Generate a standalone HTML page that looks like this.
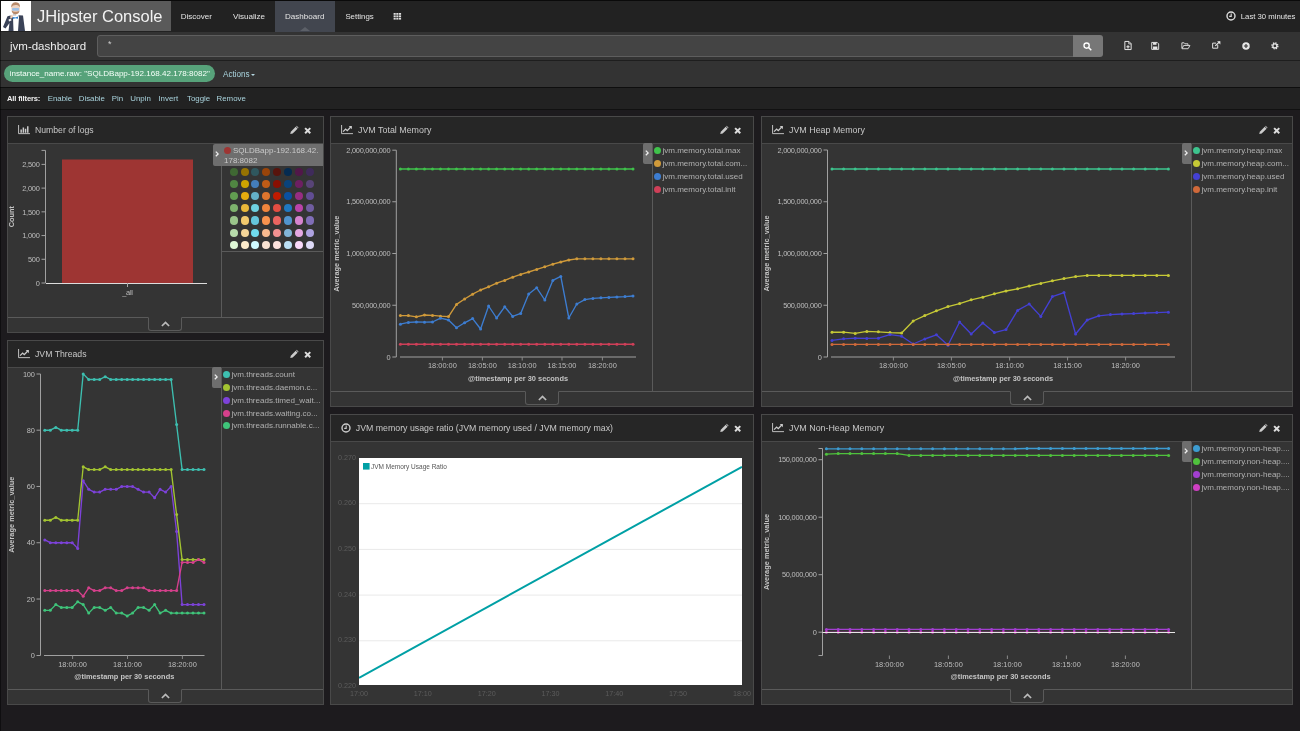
<!DOCTYPE html>
<html><head><meta charset="utf-8"><title>jvm-dashboard - JHipster Console</title>
<style>
*{box-sizing:border-box;margin:0;padding:0}
html,body{width:1300px;height:731px;overflow:hidden;background:#1d1b1e;font-family:"Liberation Sans", sans-serif;color:#ccc}
body{position:relative}
body:before{content:'';position:absolute;left:0;top:0;width:1px;height:731px;background:rgba(0,0,0,.45);z-index:9}
.ic{position:absolute;display:block;overflow:visible}
#nav{position:absolute;left:0;top:0;width:1300px;height:32px;background:#222;box-shadow:inset 0 1px 0 #0a0a0a}
#brand{position:absolute;left:31px;top:1px;width:139.5px;height:30px;background:#5a5a5a;color:#f2f2f2;font-size:16.5px;line-height:31.4px;padding-left:5.9px;white-space:nowrap}
.nl{position:absolute;top:1px;line-height:31px;font-size:8.05px;color:#e4e4e4;white-space:nowrap}
#act{position:absolute;left:275px;top:1px;width:60px;height:30.5px;background:#42464f}
#tri{position:absolute;left:300.4px;top:26.9px;width:0;height:0;border-left:5px solid transparent;border-right:5px solid transparent;border-bottom:4.6px solid #5c6068}
#tp{position:absolute;left:1240.8px;top:1px;line-height:31px;font-size:7.74px;color:#e4e4e4;white-space:nowrap}
#bar2{position:absolute;left:0;top:32px;width:1300px;height:29px;background:#333;border-bottom:1px solid #1e1e1e}
#dt{position:absolute;left:10px;top:0;line-height:28px;font-size:11.5px;color:#eee;white-space:nowrap}
#q{position:absolute;left:97px;top:3px;width:977px;height:22px;background:#444;border:1px solid #5e5e5e;border-radius:3px 0 0 3px}
#q span{position:absolute;left:10px;top:3px;font-size:9px;color:#ccc}
#qb{position:absolute;left:1073px;top:3px;width:30px;height:22px;background:#777;border-radius:0 3px 3px 0}
#fbar{position:absolute;left:0;top:61px;width:1300px;height:27px;background:#333;border-bottom:1px solid #0e0e0e}
#pill{position:absolute;left:4px;top:4px;height:17px;width:211px;border-radius:9px;background:#57a27a;color:#f4fff8;font-size:8.09px;line-height:18px;padding-left:5.6px;white-space:nowrap}
#acts{position:absolute;left:223px;top:5px;line-height:17px;font-size:8.13px;color:#a9d3dd;white-space:nowrap}
#acts i{display:inline-block;margin-left:1px;vertical-align:1px;border-left:2.4px solid transparent;border-right:2.4px solid transparent;border-top:2.8px solid #b4d6e0}
#allf{position:absolute;left:0;top:88px;width:1300px;height:22px;background:#222;border-bottom:1px solid #111;font-size:7.9px;line-height:21px}
#allf b{position:absolute;left:7px;color:#f0f0f0;white-space:nowrap;font-size:7.6px;letter-spacing:-0.15px}
#allf a{position:absolute;color:#a9d3dd;white-space:nowrap}
.panel{position:absolute;border:1px solid #494949;background:#343434}
.ph{position:absolute;left:0;top:0;right:0;height:27px;background:#262626;border-bottom:1px solid #494949}
.pt{position:absolute;top:0;line-height:26px;font-size:8.9px;color:#c8c8c8;white-space:nowrap}
.chart{position:absolute;overflow:hidden}
.tk{font-size:7.4px;letter-spacing:-0.25px;fill:#bdbdbd;font-family:"Liberation Sans", sans-serif}
.tt{letter-spacing:0}
.at{font-size:7.4px;fill:#c4c4c4;font-weight:bold;font-family:"Liberation Sans", sans-serif}
.tl{font-size:7.2px;fill:#5c5c5c;font-family:"Liberation Sans", sans-serif}
.tg{font-size:6.5px;fill:#555;font-family:"Liberation Sans", sans-serif}
.lsep{position:absolute;width:1px;background:#5a5a5a}
.ltog{position:absolute;width:9px;height:20.5px;background:#6e6e6e;border-radius:2px 0 0 2px}
.li{position:absolute;height:13px;line-height:13px;font-size:8.05px;color:#b0b0b0;white-space:nowrap;overflow:hidden}
.li i{display:inline-block;width:7px;height:7px;border-radius:50%;vertical-align:-1px;margin-right:1px}
.lhl{position:absolute;height:22px;background:#6e6e6e;border-radius:2px 0 0 2px}
.lhlt{position:absolute;left:11px;top:2.4px;font-size:8px;line-height:9.4px;color:#c9c9c9;white-space:nowrap}
.lhlt i{display:inline-block;width:7px;height:7px;border-radius:50%;vertical-align:-0.5px;margin-right:2px}
.dot{position:absolute;width:8.2px;height:8.2px;border-radius:50%}
.hl{position:absolute;height:1px;background:#5a5a5a}
.spyl{position:absolute;left:0;right:0;height:1px;background:#5a5a5a}
.spyt{position:absolute;width:34px;height:13.5px;border:1px solid #5a5a5a;border-top:1px solid #343434;border-radius:0 0 3px 3px;background:#343434}
</style></head>
<body>
<div id="nav"><svg class="ic" style="left:1px;top:1px" width="30" height="30" viewBox="1 1 30 30"><rect x="1" y="1" width="30" height="30" fill="#fff"/><path d="M7.5 16.2L10.5 15.6L13 17.5L13.5 31H8.5L9.5 23L5.5 28.5L3 27L7.5 16.2Z" fill="#3a4257"/><path d="M18.5 15.2L23 15.6L25 31H18L19 17.5Z" fill="#3a4257"/><path d="M8.5 19.5L11 18.5L11.5 20.5L9 21.5Z" fill="#f3f1f3"/><path d="M10.5 15.2L12.5 14.6L13 17L11.5 18.6L10.2 18Z" fill="#edcdb8"/><rect x="13" y="13" width="3.2" height="2.8" fill="#cfcfd2"/><path d="M12.8 17L15.4 17.6L18 16.6V18.8L15.4 18.2L12.8 19Z" fill="#2a7fd0"/><ellipse cx="15.6" cy="8.6" rx="4.2" ry="5" fill="#efd3c0"/><path d="M11.2 7.5C11 3.5 13.5 2.2 16 2.2C19 2.4 20.3 4.5 20 7.5C19 5.6 17.5 5 15.6 5C13.6 5 12.2 5.8 11.2 7.5Z" fill="#b88a6a"/><path d="M11.6 10.5C12 13.5 14 14.2 15.6 14.2C17.4 14.2 19.2 13.3 19.6 10.5C18.5 11.6 17 11.8 15.6 11.8C14 11.8 12.6 11.5 11.6 10.5Z" fill="#b88a6a"/><rect x="12.1" y="8" width="7" height="2.8" rx="0.8" fill="#9fc0e4"/></svg><div id="brand">JHipster Console</div><a class="nl" style="left:180.7px">Discover</a><a class="nl" style="left:233px">Visualize</a><div id="act"></div><a class="nl" style="left:285px">Dashboard</a><div id="tri"></div><a class="nl" style="left:345.4px;font-size:7.85px">Settings</a><svg class="ic" style="left:393.3px;top:13px" width="8.7" height="6.6" viewBox="0 0 8.4 7.4"><rect x="0" y="0.0" width="2.4" height="2" fill="#ddd"/><rect x="3" y="0.0" width="2.4" height="2" fill="#ddd"/><rect x="6" y="0.0" width="2.4" height="2" fill="#ddd"/><rect x="0" y="2.7" width="2.4" height="2" fill="#ddd"/><rect x="3" y="2.7" width="2.4" height="2" fill="#ddd"/><rect x="6" y="2.7" width="2.4" height="2" fill="#ddd"/><rect x="0" y="5.4" width="2.4" height="2" fill="#ddd"/><rect x="3" y="5.4" width="2.4" height="2" fill="#ddd"/><rect x="6" y="5.4" width="2.4" height="2" fill="#ddd"/></svg><svg class="ic" style="left:1226px;top:11px" width="10" height="10" viewBox="0 0 10 10"><circle cx="5" cy="5" r="4" fill="none" stroke="#ddd" stroke-width="1.4"/><path d="M5.2 2.6V5.4H3.2" fill="none" stroke="#ddd" stroke-width="1.1"/></svg><span id="tp">Last 30 minutes</span></div><div id="bar2"><span id="dt">jvm-dashboard</span><div id="q"><span>*</span></div><div id="qb"><svg class="ic" style="left:10.2px;top:7.2px" width="9" height="9" viewBox="0 0 10 10"><circle cx="4" cy="4" r="2.9" fill="none" stroke="#fff" stroke-width="1.5"/><path d="M6.2 6.2L9.2 9.2" stroke="#fff" stroke-width="1.7"/></svg></div><svg class="ic" style="left:1123.6px;top:9px" width="8" height="9" viewBox="0 0 8 10"><path d="M0.5 0.5H5L7.5 3V9.5H0.5Z" fill="none" stroke="#e6e6e6" stroke-width="1.1"/><path d="M4.8 0.5V3.2H7.5" fill="none" stroke="#e6e6e6" stroke-width="0.9"/><path d="M4 4.6V8.2M2.2 6.4H5.8" stroke="#e6e6e6" stroke-width="1.3"/></svg><svg class="ic" style="left:1151.2px;top:10px" width="8.4" height="7.8" viewBox="0 0 9 9"><path d="M0.5 0.5H6.8L8.5 2.2V8.5H0.5Z" fill="none" stroke="#e6e6e6" stroke-width="1.1"/><rect x="2" y="0.8" width="4" height="2.4" fill="#e6e6e6"/><rect x="2" y="5.2" width="5" height="3" fill="#e6e6e6"/></svg><svg class="ic" style="left:1180.6px;top:10px" width="9.8" height="7.4" viewBox="0 0 11 9"><path d="M0.6 7.8V1H3.4L4.4 2.2H8V3.6" fill="none" stroke="#e6e6e6" stroke-width="1.1"/><path d="M0.8 8.2L2.8 4.2H10.4L8.2 8.2Z" fill="none" stroke="#e6e6e6" stroke-width="1.1"/></svg><svg class="ic" style="left:1212px;top:9px" width="9" height="8.2" viewBox="0 0 11 10"><path d="M7 4.6V8.8H0.8V2.6H5" fill="none" stroke="#e6e6e6" stroke-width="1.2"/><path d="M4 6L9.4 0.8" stroke="#e6e6e6" stroke-width="1.5"/><path d="M6.2 0.3H10.2V4.3Z" fill="#e6e6e6"/></svg><svg class="ic" style="left:1242px;top:10px" width="8" height="8" viewBox="0 0 9 9"><circle cx="4.5" cy="4.5" r="4.2" fill="#e6e6e6"/><path d="M4.5 2.2V6.8M2.2 4.5H6.8" stroke="#333" stroke-width="1.3"/></svg><svg class="ic" style="left:1271.4px;top:10px" width="7.8" height="7.8" viewBox="0 0 9 9"><circle cx="4.5" cy="4.5" r="3.4" fill="none" stroke="#e6e6e6" stroke-width="1.6" stroke-dasharray="1.55 1.12"/><circle cx="4.5" cy="4.5" r="2.3" fill="none" stroke="#e6e6e6" stroke-width="1.4"/></svg></div><div id="fbar"><div id="pill">instance_name.raw: "SQLDBapp-192.168.42.178:8082"</div><span id="acts">Actions<i></i></span></div><div id="allf"><b>All filters:</b><a style="left:47.7px">Enable</a><a style="left:78.7px">Disable</a><a style="left:111.7px">Pin</a><a style="left:130.2px">Unpin</a><a style="left:158.4px">Invert</a><a style="left:187px">Toggle</a><a style="left:216.5px">Remove</a></div>
<div class="panel" style="left:7px;top:116px;width:317px;height:217px"><div class="ph"><svg class="ic" style="left:10px;top:8px" width="12" height="9.2" viewBox="0 0 13 10"><path d="M0.6 0V9.4H13" fill="none" stroke="#ccc" stroke-width="1"/><path d="M2.6 5h1.6v3.4H2.6zM5 2.6h1.6v5.8H5zM7.4 4h1.6v4.4H7.4zM9.8 1.4h1.6v7H9.8z" fill="#ccc"/></svg><span class="pt" style="left:27px;font-size:8.66px">Number of logs</span><svg class="ic" style="left:282.4px;top:9.2px" width="8.4" height="8.4" viewBox="0 0 9 9"><path d="M0.3 8.7L0.9 6.1L6.1 0.9L8.1 2.9L2.9 8.1Z" fill="#ccc"/><path d="M6.6 0.4L7.2 -0.2L9.2 1.8L8.6 2.4Z" fill="#ccc"/></svg><svg class="ic" style="left:295.8px;top:9.6px" width="7.4" height="7.4" viewBox="0 0 8 8"><path d="M1.2 1.2L6.8 6.8M6.8 1.2L1.2 6.8" stroke="#ddd" stroke-width="2.1"/></svg></div><svg class="chart" width="315" height="215" viewBox="8 117 315 215" style="left:0;top:0"><path d="M41.5 150.4H45.5V283H41.5" fill="none" stroke="#a0a0a0" stroke-width="1"/><text x="39.5" y="285.7" text-anchor="end" class="tk">0</text><path d="M41.5 259.28H45.5" stroke="#a0a0a0" stroke-width="1"/><text x="39.5" y="261.97999999999996" text-anchor="end" class="tk">500</text><path d="M41.5 235.56H45.5" stroke="#a0a0a0" stroke-width="1"/><text x="39.5" y="238.26" text-anchor="end" class="tk">1,000</text><path d="M41.5 211.84H45.5" stroke="#a0a0a0" stroke-width="1"/><text x="39.5" y="214.54" text-anchor="end" class="tk">1,500</text><path d="M41.5 188.12H45.5" stroke="#a0a0a0" stroke-width="1"/><text x="39.5" y="190.82" text-anchor="end" class="tk">2,000</text><path d="M41.5 164.4H45.5" stroke="#a0a0a0" stroke-width="1"/><text x="39.5" y="167.1" text-anchor="end" class="tk">2,500</text><text transform="translate(13.9,216.7) rotate(-90)" text-anchor="middle" class="at">Count</text><rect x="62" y="159.5" width="131" height="123.5" fill="#9e3533"/><path d="M46 283.5H207" stroke="#ddd" stroke-width="1"/><path d="M127.5 283V287" stroke="#aaa" stroke-width="1"/><text x="127.5" y="295" text-anchor="middle" class="tk">_all</text></svg><div class="lsep" style="left:213px;top:27px;height:173px"></div><div class="lhl" style="left:205px;top:27px;width:110px"><svg class="ic" style="left:2px;top:7.2px" width="4" height="6" viewBox="0 0 4 6"><path d="M0.8 0.6L3.1 2.9L0.8 5.2" fill="none" stroke="#eee" stroke-width="1.3"/></svg><div class="lhlt"><i style="background:#9e3533"></i>SQLDBapp-192.168.42.<br>178:8082</div></div><i class="dot" style="left:221.6px;top:50.5px;background:#3F6833"></i><i class="dot" style="left:232.5px;top:50.5px;background:#967302"></i><i class="dot" style="left:243.3px;top:50.5px;background:#2F575E"></i><i class="dot" style="left:254.2px;top:50.5px;background:#99440A"></i><i class="dot" style="left:265.1px;top:50.5px;background:#58140C"></i><i class="dot" style="left:275.9px;top:50.5px;background:#052B51"></i><i class="dot" style="left:286.8px;top:50.5px;background:#511749"></i><i class="dot" style="left:297.7px;top:50.5px;background:#3F2B5B"></i><i class="dot" style="left:221.6px;top:62.7px;background:#508642"></i><i class="dot" style="left:232.5px;top:62.7px;background:#CCA300"></i><i class="dot" style="left:243.3px;top:62.7px;background:#447EBC"></i><i class="dot" style="left:254.2px;top:62.7px;background:#C15C17"></i><i class="dot" style="left:265.1px;top:62.7px;background:#890F02"></i><i class="dot" style="left:275.9px;top:62.7px;background:#0A437C"></i><i class="dot" style="left:286.8px;top:62.7px;background:#6D1F62"></i><i class="dot" style="left:297.7px;top:62.7px;background:#584477"></i><i class="dot" style="left:221.6px;top:74.9px;background:#629E51"></i><i class="dot" style="left:232.5px;top:74.9px;background:#E5AC0E"></i><i class="dot" style="left:243.3px;top:74.9px;background:#64B0C8"></i><i class="dot" style="left:254.2px;top:74.9px;background:#E0752D"></i><i class="dot" style="left:265.1px;top:74.9px;background:#BF1B00"></i><i class="dot" style="left:275.9px;top:74.9px;background:#0A50A1"></i><i class="dot" style="left:286.8px;top:74.9px;background:#962D82"></i><i class="dot" style="left:297.7px;top:74.9px;background:#614D93"></i><i class="dot" style="left:221.6px;top:87.2px;background:#7EB26D"></i><i class="dot" style="left:232.5px;top:87.2px;background:#EAB839"></i><i class="dot" style="left:243.3px;top:87.2px;background:#6ED0E0"></i><i class="dot" style="left:254.2px;top:87.2px;background:#EF843C"></i><i class="dot" style="left:265.1px;top:87.2px;background:#E24D42"></i><i class="dot" style="left:275.9px;top:87.2px;background:#1F78C1"></i><i class="dot" style="left:286.8px;top:87.2px;background:#BA43A9"></i><i class="dot" style="left:297.7px;top:87.2px;background:#705DA0"></i><i class="dot" style="left:221.6px;top:99.4px;background:#9AC48A"></i><i class="dot" style="left:232.5px;top:99.4px;background:#F2C96D"></i><i class="dot" style="left:243.3px;top:99.4px;background:#65C5DB"></i><i class="dot" style="left:254.2px;top:99.4px;background:#F9934E"></i><i class="dot" style="left:265.1px;top:99.4px;background:#EA6460"></i><i class="dot" style="left:275.9px;top:99.4px;background:#5195CE"></i><i class="dot" style="left:286.8px;top:99.4px;background:#D683CE"></i><i class="dot" style="left:297.7px;top:99.4px;background:#806EB7"></i><i class="dot" style="left:221.6px;top:111.6px;background:#B7DBAB"></i><i class="dot" style="left:232.5px;top:111.6px;background:#F4D598"></i><i class="dot" style="left:243.3px;top:111.6px;background:#70DBED"></i><i class="dot" style="left:254.2px;top:111.6px;background:#F9BA8F"></i><i class="dot" style="left:265.1px;top:111.6px;background:#F29191"></i><i class="dot" style="left:275.9px;top:111.6px;background:#82B5D8"></i><i class="dot" style="left:286.8px;top:111.6px;background:#E5A8E2"></i><i class="dot" style="left:297.7px;top:111.6px;background:#AEA2E0"></i><i class="dot" style="left:221.6px;top:123.8px;background:#E0F9D7"></i><i class="dot" style="left:232.5px;top:123.8px;background:#FCEACA"></i><i class="dot" style="left:243.3px;top:123.8px;background:#CFFAFF"></i><i class="dot" style="left:254.2px;top:123.8px;background:#F9E2D2"></i><i class="dot" style="left:265.1px;top:123.8px;background:#FCE2DE"></i><i class="dot" style="left:275.9px;top:123.8px;background:#BADFF4"></i><i class="dot" style="left:286.8px;top:123.8px;background:#F9D9F9"></i><i class="dot" style="left:297.7px;top:123.8px;background:#DEDAF7"></i><div class="hl" style="left:214px;top:134px;width:101px"></div><div class="spyl" style="top:200px"></div><div class="spyt" style="left:140.0px;top:200px"><svg class="ic" style="left:12px;top:3px" width="9" height="6" viewBox="0 0 9 6"><path d="M0.9 5L4.5 1.4L8.1 5" fill="none" stroke="#bbb" stroke-width="1.7"/></svg></div></div>
<div class="panel" style="left:7px;top:340px;width:317px;height:365px"><div class="ph"><svg class="ic" style="left:10px;top:8px" width="12" height="9.2" viewBox="0 0 13 10"><path d="M0.6 0V9.4H13" fill="none" stroke="#ccc" stroke-width="1"/><path d="M2.2 7.2L5 4.4L6.8 6.2L10.6 2.2" fill="none" stroke="#ccc" stroke-width="1.4"/><path d="M8.4 1.2H11.8V4.6Z" fill="#ccc"/></svg><span class="pt" style="left:27px;font-size:8.7px">JVM Threads</span><svg class="ic" style="left:282.4px;top:9.2px" width="8.4" height="8.4" viewBox="0 0 9 9"><path d="M0.3 8.7L0.9 6.1L6.1 0.9L8.1 2.9L2.9 8.1Z" fill="#ccc"/><path d="M6.6 0.4L7.2 -0.2L9.2 1.8L8.6 2.4Z" fill="#ccc"/></svg><svg class="ic" style="left:295.8px;top:9.6px" width="7.4" height="7.4" viewBox="0 0 8 8"><path d="M1.2 1.2L6.8 6.8M6.8 1.2L1.2 6.8" stroke="#ddd" stroke-width="2.1"/></svg></div><svg class="chart" width="315" height="363" viewBox="8 341 315 363" style="left:0;top:0"><path d="M36.5 374H40.5V655.5H36.5" fill="none" stroke="#a0a0a0" stroke-width="1"/><text x="34.5" y="658.0" text-anchor="end" class="tk">0</text><path d="M36.5 599.02H40.5" stroke="#a0a0a0" stroke-width="1"/><text x="34.5" y="601.72" text-anchor="end" class="tk">20</text><path d="M36.5 542.74H40.5" stroke="#a0a0a0" stroke-width="1"/><text x="34.5" y="545.44" text-anchor="end" class="tk">40</text><path d="M36.5 486.4599999999999H40.5" stroke="#a0a0a0" stroke-width="1"/><text x="34.5" y="489.1599999999999" text-anchor="end" class="tk">60</text><path d="M36.5 430.17999999999995H40.5" stroke="#a0a0a0" stroke-width="1"/><text x="34.5" y="432.87999999999994" text-anchor="end" class="tk">80</text><text x="34.5" y="376.59999999999997" text-anchor="end" class="tk">100</text><text transform="translate(13.5,514.75) rotate(-90)" text-anchor="middle" class="at">Average metric_value</text><path d="M44 655.5H204.5" stroke="#a0a0a0" stroke-width="1"/><path d="M72.6 655.5V659.0" stroke="#8a8a8a" stroke-width="1"/><text x="72.6" y="666.6" text-anchor="middle" class="tk tt">18:00:00</text><path d="M127.5 655.5V659.0" stroke="#8a8a8a" stroke-width="1"/><text x="127.5" y="666.6" text-anchor="middle" class="tk tt">18:10:00</text><path d="M182.4 655.5V659.0" stroke="#8a8a8a" stroke-width="1"/><text x="182.4" y="666.6" text-anchor="middle" class="tk tt">18:20:00</text><text x="124.25" y="679.3" text-anchor="middle" class="at">@timestamp per 30 seconds</text><polyline fill="none" stroke="#3dbfb0" stroke-width="1.35" stroke-linejoin="round" points="44.8,430.2 50.3,430.2 55.8,427.4 61.3,430.2 66.8,430.2 72.2,430.2 77.7,430.2 83.2,373.9 88.7,379.5 94.2,379.5 99.7,379.5 105.2,376.7 110.7,379.5 116.2,379.5 121.7,379.5 127.2,379.5 132.6,379.5 138.1,379.5 143.6,379.5 149.1,379.5 154.6,379.5 160.1,379.5 165.6,379.5 171.1,379.5 176.6,424.6 182.1,469.6 187.5,469.6 193.0,469.6 198.5,469.6 204.0,469.6"/><circle cx="44.8" cy="430.2" r="1.5" fill="#3dbfb0"/><circle cx="50.3" cy="430.2" r="1.5" fill="#3dbfb0"/><circle cx="55.8" cy="427.4" r="1.5" fill="#3dbfb0"/><circle cx="61.3" cy="430.2" r="1.5" fill="#3dbfb0"/><circle cx="66.8" cy="430.2" r="1.5" fill="#3dbfb0"/><circle cx="72.2" cy="430.2" r="1.5" fill="#3dbfb0"/><circle cx="77.7" cy="430.2" r="1.5" fill="#3dbfb0"/><circle cx="83.2" cy="373.9" r="1.5" fill="#3dbfb0"/><circle cx="88.7" cy="379.5" r="1.5" fill="#3dbfb0"/><circle cx="94.2" cy="379.5" r="1.5" fill="#3dbfb0"/><circle cx="99.7" cy="379.5" r="1.5" fill="#3dbfb0"/><circle cx="105.2" cy="376.7" r="1.5" fill="#3dbfb0"/><circle cx="110.7" cy="379.5" r="1.5" fill="#3dbfb0"/><circle cx="116.2" cy="379.5" r="1.5" fill="#3dbfb0"/><circle cx="121.7" cy="379.5" r="1.5" fill="#3dbfb0"/><circle cx="127.2" cy="379.5" r="1.5" fill="#3dbfb0"/><circle cx="132.6" cy="379.5" r="1.5" fill="#3dbfb0"/><circle cx="138.1" cy="379.5" r="1.5" fill="#3dbfb0"/><circle cx="143.6" cy="379.5" r="1.5" fill="#3dbfb0"/><circle cx="149.1" cy="379.5" r="1.5" fill="#3dbfb0"/><circle cx="154.6" cy="379.5" r="1.5" fill="#3dbfb0"/><circle cx="160.1" cy="379.5" r="1.5" fill="#3dbfb0"/><circle cx="165.6" cy="379.5" r="1.5" fill="#3dbfb0"/><circle cx="171.1" cy="379.5" r="1.5" fill="#3dbfb0"/><circle cx="176.6" cy="424.6" r="1.5" fill="#3dbfb0"/><circle cx="182.1" cy="469.6" r="1.5" fill="#3dbfb0"/><circle cx="187.5" cy="469.6" r="1.5" fill="#3dbfb0"/><circle cx="193.0" cy="469.6" r="1.5" fill="#3dbfb0"/><circle cx="198.5" cy="469.6" r="1.5" fill="#3dbfb0"/><circle cx="204.0" cy="469.6" r="1.5" fill="#3dbfb0"/><polyline fill="none" stroke="#a3c431" stroke-width="1.35" stroke-linejoin="round" points="44.8,520.2 50.3,520.2 55.8,517.4 61.3,520.2 66.8,520.2 72.2,520.2 77.7,520.2 83.2,466.8 88.7,469.6 94.2,469.6 99.7,469.6 105.2,466.8 110.7,469.6 116.2,469.6 121.7,469.6 127.2,469.6 132.6,469.6 138.1,469.6 143.6,469.6 149.1,469.6 154.6,469.6 160.1,469.6 165.6,469.6 171.1,469.6 176.6,514.6 182.1,559.6 187.5,559.6 193.0,559.6 198.5,559.6 204.0,559.6"/><circle cx="44.8" cy="520.2" r="1.5" fill="#a3c431"/><circle cx="50.3" cy="520.2" r="1.5" fill="#a3c431"/><circle cx="55.8" cy="517.4" r="1.5" fill="#a3c431"/><circle cx="61.3" cy="520.2" r="1.5" fill="#a3c431"/><circle cx="66.8" cy="520.2" r="1.5" fill="#a3c431"/><circle cx="72.2" cy="520.2" r="1.5" fill="#a3c431"/><circle cx="77.7" cy="520.2" r="1.5" fill="#a3c431"/><circle cx="83.2" cy="466.8" r="1.5" fill="#a3c431"/><circle cx="88.7" cy="469.6" r="1.5" fill="#a3c431"/><circle cx="94.2" cy="469.6" r="1.5" fill="#a3c431"/><circle cx="99.7" cy="469.6" r="1.5" fill="#a3c431"/><circle cx="105.2" cy="466.8" r="1.5" fill="#a3c431"/><circle cx="110.7" cy="469.6" r="1.5" fill="#a3c431"/><circle cx="116.2" cy="469.6" r="1.5" fill="#a3c431"/><circle cx="121.7" cy="469.6" r="1.5" fill="#a3c431"/><circle cx="127.2" cy="469.6" r="1.5" fill="#a3c431"/><circle cx="132.6" cy="469.6" r="1.5" fill="#a3c431"/><circle cx="138.1" cy="469.6" r="1.5" fill="#a3c431"/><circle cx="143.6" cy="469.6" r="1.5" fill="#a3c431"/><circle cx="149.1" cy="469.6" r="1.5" fill="#a3c431"/><circle cx="154.6" cy="469.6" r="1.5" fill="#a3c431"/><circle cx="160.1" cy="469.6" r="1.5" fill="#a3c431"/><circle cx="165.6" cy="469.6" r="1.5" fill="#a3c431"/><circle cx="171.1" cy="469.6" r="1.5" fill="#a3c431"/><circle cx="176.6" cy="514.6" r="1.5" fill="#a3c431"/><circle cx="182.1" cy="559.6" r="1.5" fill="#a3c431"/><circle cx="187.5" cy="559.6" r="1.5" fill="#a3c431"/><circle cx="193.0" cy="559.6" r="1.5" fill="#a3c431"/><circle cx="198.5" cy="559.6" r="1.5" fill="#a3c431"/><circle cx="204.0" cy="559.6" r="1.5" fill="#a3c431"/><polyline fill="none" stroke="#7d42d9" stroke-width="1.35" stroke-linejoin="round" points="44.8,539.9 50.3,542.7 55.8,542.7 61.3,542.7 66.8,542.7 72.2,542.7 77.7,548.4 83.2,480.8 88.7,489.3 94.2,492.1 99.7,492.1 105.2,489.3 110.7,489.3 116.2,489.3 121.7,486.5 127.2,486.5 132.6,486.5 138.1,489.3 143.6,492.1 149.1,492.1 154.6,497.7 160.1,489.3 165.6,492.1 171.1,486.5 176.6,531.5 182.1,604.6 187.5,604.6 193.0,604.6 198.5,604.6 204.0,604.6"/><circle cx="44.8" cy="539.9" r="1.5" fill="#7d42d9"/><circle cx="50.3" cy="542.7" r="1.5" fill="#7d42d9"/><circle cx="55.8" cy="542.7" r="1.5" fill="#7d42d9"/><circle cx="61.3" cy="542.7" r="1.5" fill="#7d42d9"/><circle cx="66.8" cy="542.7" r="1.5" fill="#7d42d9"/><circle cx="72.2" cy="542.7" r="1.5" fill="#7d42d9"/><circle cx="77.7" cy="548.4" r="1.5" fill="#7d42d9"/><circle cx="83.2" cy="480.8" r="1.5" fill="#7d42d9"/><circle cx="88.7" cy="489.3" r="1.5" fill="#7d42d9"/><circle cx="94.2" cy="492.1" r="1.5" fill="#7d42d9"/><circle cx="99.7" cy="492.1" r="1.5" fill="#7d42d9"/><circle cx="105.2" cy="489.3" r="1.5" fill="#7d42d9"/><circle cx="110.7" cy="489.3" r="1.5" fill="#7d42d9"/><circle cx="116.2" cy="489.3" r="1.5" fill="#7d42d9"/><circle cx="121.7" cy="486.5" r="1.5" fill="#7d42d9"/><circle cx="127.2" cy="486.5" r="1.5" fill="#7d42d9"/><circle cx="132.6" cy="486.5" r="1.5" fill="#7d42d9"/><circle cx="138.1" cy="489.3" r="1.5" fill="#7d42d9"/><circle cx="143.6" cy="492.1" r="1.5" fill="#7d42d9"/><circle cx="149.1" cy="492.1" r="1.5" fill="#7d42d9"/><circle cx="154.6" cy="497.7" r="1.5" fill="#7d42d9"/><circle cx="160.1" cy="489.3" r="1.5" fill="#7d42d9"/><circle cx="165.6" cy="492.1" r="1.5" fill="#7d42d9"/><circle cx="171.1" cy="486.5" r="1.5" fill="#7d42d9"/><circle cx="176.6" cy="531.5" r="1.5" fill="#7d42d9"/><circle cx="182.1" cy="604.6" r="1.5" fill="#7d42d9"/><circle cx="187.5" cy="604.6" r="1.5" fill="#7d42d9"/><circle cx="193.0" cy="604.6" r="1.5" fill="#7d42d9"/><circle cx="198.5" cy="604.6" r="1.5" fill="#7d42d9"/><circle cx="204.0" cy="604.6" r="1.5" fill="#7d42d9"/><polyline fill="none" stroke="#d6408c" stroke-width="1.35" stroke-linejoin="round" points="44.8,590.6 50.3,590.6 55.8,590.6 61.3,590.6 66.8,590.6 72.2,590.6 77.7,590.6 83.2,596.2 88.7,587.8 94.2,590.6 99.7,590.6 105.2,587.8 110.7,587.8 116.2,590.6 121.7,590.6 127.2,587.8 132.6,587.8 138.1,587.8 143.6,587.8 149.1,590.6 154.6,590.6 160.1,590.6 165.6,590.6 171.1,590.6 176.6,590.6 182.1,562.4 187.5,562.4 193.0,562.4 198.5,559.6 204.0,562.4"/><circle cx="44.8" cy="590.6" r="1.5" fill="#d6408c"/><circle cx="50.3" cy="590.6" r="1.5" fill="#d6408c"/><circle cx="55.8" cy="590.6" r="1.5" fill="#d6408c"/><circle cx="61.3" cy="590.6" r="1.5" fill="#d6408c"/><circle cx="66.8" cy="590.6" r="1.5" fill="#d6408c"/><circle cx="72.2" cy="590.6" r="1.5" fill="#d6408c"/><circle cx="77.7" cy="590.6" r="1.5" fill="#d6408c"/><circle cx="83.2" cy="596.2" r="1.5" fill="#d6408c"/><circle cx="88.7" cy="587.8" r="1.5" fill="#d6408c"/><circle cx="94.2" cy="590.6" r="1.5" fill="#d6408c"/><circle cx="99.7" cy="590.6" r="1.5" fill="#d6408c"/><circle cx="105.2" cy="587.8" r="1.5" fill="#d6408c"/><circle cx="110.7" cy="587.8" r="1.5" fill="#d6408c"/><circle cx="116.2" cy="590.6" r="1.5" fill="#d6408c"/><circle cx="121.7" cy="590.6" r="1.5" fill="#d6408c"/><circle cx="127.2" cy="587.8" r="1.5" fill="#d6408c"/><circle cx="132.6" cy="587.8" r="1.5" fill="#d6408c"/><circle cx="138.1" cy="587.8" r="1.5" fill="#d6408c"/><circle cx="143.6" cy="587.8" r="1.5" fill="#d6408c"/><circle cx="149.1" cy="590.6" r="1.5" fill="#d6408c"/><circle cx="154.6" cy="590.6" r="1.5" fill="#d6408c"/><circle cx="160.1" cy="590.6" r="1.5" fill="#d6408c"/><circle cx="165.6" cy="590.6" r="1.5" fill="#d6408c"/><circle cx="171.1" cy="590.6" r="1.5" fill="#d6408c"/><circle cx="176.6" cy="590.6" r="1.5" fill="#d6408c"/><circle cx="182.1" cy="562.4" r="1.5" fill="#d6408c"/><circle cx="187.5" cy="562.4" r="1.5" fill="#d6408c"/><circle cx="193.0" cy="562.4" r="1.5" fill="#d6408c"/><circle cx="198.5" cy="559.6" r="1.5" fill="#d6408c"/><circle cx="204.0" cy="562.4" r="1.5" fill="#d6408c"/><polyline fill="none" stroke="#3fc47a" stroke-width="1.35" stroke-linejoin="round" points="44.8,610.3 50.3,610.3 55.8,604.6 61.3,607.5 66.8,607.5 72.2,607.5 77.7,601.8 83.2,604.6 88.7,613.1 94.2,607.5 99.7,607.5 105.2,610.3 110.7,607.5 116.2,613.1 121.7,613.1 127.2,615.9 132.6,613.1 138.1,607.5 143.6,607.5 149.1,610.3 154.6,604.6 160.1,613.1 165.6,610.3 171.1,613.1 176.6,613.1 182.1,613.1 187.5,613.1 193.0,613.1 198.5,613.1 204.0,613.1"/><circle cx="44.8" cy="610.3" r="1.5" fill="#3fc47a"/><circle cx="50.3" cy="610.3" r="1.5" fill="#3fc47a"/><circle cx="55.8" cy="604.6" r="1.5" fill="#3fc47a"/><circle cx="61.3" cy="607.5" r="1.5" fill="#3fc47a"/><circle cx="66.8" cy="607.5" r="1.5" fill="#3fc47a"/><circle cx="72.2" cy="607.5" r="1.5" fill="#3fc47a"/><circle cx="77.7" cy="601.8" r="1.5" fill="#3fc47a"/><circle cx="83.2" cy="604.6" r="1.5" fill="#3fc47a"/><circle cx="88.7" cy="613.1" r="1.5" fill="#3fc47a"/><circle cx="94.2" cy="607.5" r="1.5" fill="#3fc47a"/><circle cx="99.7" cy="607.5" r="1.5" fill="#3fc47a"/><circle cx="105.2" cy="610.3" r="1.5" fill="#3fc47a"/><circle cx="110.7" cy="607.5" r="1.5" fill="#3fc47a"/><circle cx="116.2" cy="613.1" r="1.5" fill="#3fc47a"/><circle cx="121.7" cy="613.1" r="1.5" fill="#3fc47a"/><circle cx="127.2" cy="615.9" r="1.5" fill="#3fc47a"/><circle cx="132.6" cy="613.1" r="1.5" fill="#3fc47a"/><circle cx="138.1" cy="607.5" r="1.5" fill="#3fc47a"/><circle cx="143.6" cy="607.5" r="1.5" fill="#3fc47a"/><circle cx="149.1" cy="610.3" r="1.5" fill="#3fc47a"/><circle cx="154.6" cy="604.6" r="1.5" fill="#3fc47a"/><circle cx="160.1" cy="613.1" r="1.5" fill="#3fc47a"/><circle cx="165.6" cy="610.3" r="1.5" fill="#3fc47a"/><circle cx="171.1" cy="613.1" r="1.5" fill="#3fc47a"/><circle cx="176.6" cy="613.1" r="1.5" fill="#3fc47a"/><circle cx="182.1" cy="613.1" r="1.5" fill="#3fc47a"/><circle cx="187.5" cy="613.1" r="1.5" fill="#3fc47a"/><circle cx="193.0" cy="613.1" r="1.5" fill="#3fc47a"/><circle cx="198.5" cy="613.1" r="1.5" fill="#3fc47a"/><circle cx="204.0" cy="613.1" r="1.5" fill="#3fc47a"/></svg><div class="lsep" style="left:213px;top:27px;height:321px"></div><div class="ltog" style="left:203.7px;top:26px"><svg class="ic" style="left:2.6px;top:7.4px" width="4" height="6" viewBox="0 0 4 6"><path d="M0.8 0.6L3.1 2.9L0.8 5.2" fill="none" stroke="#eee" stroke-width="1.3"/></svg></div><div class="li" style="left:215.4px;top:27.0px;width:98px"><i style="background:#3dbfb0"></i>jvm.threads.count</div><div class="li" style="left:215.4px;top:39.9px;width:98px"><i style="background:#a3c431"></i>jvm.threads.daemon.c...</div><div class="li" style="left:215.4px;top:52.7px;width:98px"><i style="background:#7d42d9"></i>jvm.threads.timed_wait...</div><div class="li" style="left:215.4px;top:65.5px;width:98px"><i style="background:#d6408c"></i>jvm.threads.waiting.co...</div><div class="li" style="left:215.4px;top:78.4px;width:98px"><i style="background:#3fc47a"></i>jvm.threads.runnable.c...</div><div class="spyl" style="top:348px"></div><div class="spyt" style="left:140.0px;top:348px"><svg class="ic" style="left:12px;top:3px" width="9" height="6" viewBox="0 0 9 6"><path d="M0.9 5L4.5 1.4L8.1 5" fill="none" stroke="#bbb" stroke-width="1.7"/></svg></div></div>
<div class="panel" style="left:330px;top:116px;width:424px;height:291px"><div class="ph"><svg class="ic" style="left:10px;top:8px" width="12" height="9.2" viewBox="0 0 13 10"><path d="M0.6 0V9.4H13" fill="none" stroke="#ccc" stroke-width="1"/><path d="M2.2 7.2L5 4.4L6.8 6.2L10.6 2.2" fill="none" stroke="#ccc" stroke-width="1.4"/><path d="M8.4 1.2H11.8V4.6Z" fill="#ccc"/></svg><span class="pt" style="left:27px;font-size:8.9px">JVM Total Memory</span><svg class="ic" style="left:389.4px;top:9.2px" width="8.4" height="8.4" viewBox="0 0 9 9"><path d="M0.3 8.7L0.9 6.1L6.1 0.9L8.1 2.9L2.9 8.1Z" fill="#ccc"/><path d="M6.6 0.4L7.2 -0.2L9.2 1.8L8.6 2.4Z" fill="#ccc"/></svg><svg class="ic" style="left:402.8px;top:9.6px" width="7.4" height="7.4" viewBox="0 0 8 8"><path d="M1.2 1.2L6.8 6.8M6.8 1.2L1.2 6.8" stroke="#ddd" stroke-width="2.1"/></svg></div><svg class="chart" width="422" height="289" viewBox="331 117 422 289" style="left:0;top:0"><path d="M392.3 150.2H396.3V357H392.3" fill="none" stroke="#a0a0a0" stroke-width="1"/><text x="390.3" y="359.7" text-anchor="end" class="tk">0</text><path d="M392.3 305.25H396.3" stroke="#a0a0a0" stroke-width="1"/><text x="390.3" y="307.95" text-anchor="end" class="tk">500,000,000</text><path d="M392.3 253.5H396.3" stroke="#a0a0a0" stroke-width="1"/><text x="390.3" y="256.2" text-anchor="end" class="tk">1,000,000,000</text><path d="M392.3 201.75H396.3" stroke="#a0a0a0" stroke-width="1"/><text x="390.3" y="204.45" text-anchor="end" class="tk">1,500,000,000</text><text x="390.3" y="152.7" text-anchor="end" class="tk">2,000,000,000</text><text transform="translate(338.5,253.6) rotate(-90)" text-anchor="middle" class="at">Average metric_value</text><path d="M400 357H636" stroke="#a0a0a0" stroke-width="1"/><path d="M442.4 357V360.5" stroke="#8a8a8a" stroke-width="1"/><text x="442.4" y="368.1" text-anchor="middle" class="tk tt">18:00:00</text><path d="M482.4 357V360.5" stroke="#8a8a8a" stroke-width="1"/><text x="482.4" y="368.1" text-anchor="middle" class="tk tt">18:05:00</text><path d="M522.2 357V360.5" stroke="#8a8a8a" stroke-width="1"/><text x="522.2" y="368.1" text-anchor="middle" class="tk tt">18:10:00</text><path d="M562 357V360.5" stroke="#8a8a8a" stroke-width="1"/><text x="562" y="368.1" text-anchor="middle" class="tk tt">18:15:00</text><path d="M602.4 357V360.5" stroke="#8a8a8a" stroke-width="1"/><text x="602.4" y="368.1" text-anchor="middle" class="tk tt">18:20:00</text><text x="518.0" y="380.8" text-anchor="middle" class="at">@timestamp per 30 seconds</text><polyline fill="none" stroke="#3fc24b" stroke-width="1.35" stroke-linejoin="round" points="400.4,169.0 408.4,169.0 416.4,169.0 424.5,169.0 432.5,169.0 440.5,169.0 448.5,169.0 456.5,169.0 464.6,169.0 472.6,169.0 480.6,169.0 488.6,169.0 496.6,169.0 504.7,169.0 512.7,169.0 520.7,169.0 528.7,169.0 536.7,169.0 544.8,169.0 552.8,169.0 560.8,169.0 568.8,169.0 576.8,169.0 584.9,169.0 592.9,169.0 600.9,169.0 608.9,169.0 616.9,169.0 625.0,169.0 633.0,169.0"/><circle cx="400.4" cy="169.0" r="1.5" fill="#3fc24b"/><circle cx="408.4" cy="169.0" r="1.5" fill="#3fc24b"/><circle cx="416.4" cy="169.0" r="1.5" fill="#3fc24b"/><circle cx="424.5" cy="169.0" r="1.5" fill="#3fc24b"/><circle cx="432.5" cy="169.0" r="1.5" fill="#3fc24b"/><circle cx="440.5" cy="169.0" r="1.5" fill="#3fc24b"/><circle cx="448.5" cy="169.0" r="1.5" fill="#3fc24b"/><circle cx="456.5" cy="169.0" r="1.5" fill="#3fc24b"/><circle cx="464.6" cy="169.0" r="1.5" fill="#3fc24b"/><circle cx="472.6" cy="169.0" r="1.5" fill="#3fc24b"/><circle cx="480.6" cy="169.0" r="1.5" fill="#3fc24b"/><circle cx="488.6" cy="169.0" r="1.5" fill="#3fc24b"/><circle cx="496.6" cy="169.0" r="1.5" fill="#3fc24b"/><circle cx="504.7" cy="169.0" r="1.5" fill="#3fc24b"/><circle cx="512.7" cy="169.0" r="1.5" fill="#3fc24b"/><circle cx="520.7" cy="169.0" r="1.5" fill="#3fc24b"/><circle cx="528.7" cy="169.0" r="1.5" fill="#3fc24b"/><circle cx="536.7" cy="169.0" r="1.5" fill="#3fc24b"/><circle cx="544.8" cy="169.0" r="1.5" fill="#3fc24b"/><circle cx="552.8" cy="169.0" r="1.5" fill="#3fc24b"/><circle cx="560.8" cy="169.0" r="1.5" fill="#3fc24b"/><circle cx="568.8" cy="169.0" r="1.5" fill="#3fc24b"/><circle cx="576.8" cy="169.0" r="1.5" fill="#3fc24b"/><circle cx="584.9" cy="169.0" r="1.5" fill="#3fc24b"/><circle cx="592.9" cy="169.0" r="1.5" fill="#3fc24b"/><circle cx="600.9" cy="169.0" r="1.5" fill="#3fc24b"/><circle cx="608.9" cy="169.0" r="1.5" fill="#3fc24b"/><circle cx="616.9" cy="169.0" r="1.5" fill="#3fc24b"/><circle cx="625.0" cy="169.0" r="1.5" fill="#3fc24b"/><circle cx="633.0" cy="169.0" r="1.5" fill="#3fc24b"/><polyline fill="none" stroke="#d09a3a" stroke-width="1.35" stroke-linejoin="round" points="400.4,315.6 408.4,315.6 416.4,316.8 424.5,315.0 432.5,315.4 440.5,316.2 448.5,316.6 456.5,304.4 464.6,299.0 472.6,294.2 480.6,290.0 488.6,286.8 496.6,283.2 504.7,280.4 512.7,277.2 520.7,274.4 528.7,272.0 536.7,269.4 544.8,266.8 552.8,264.2 560.8,262.0 568.8,260.0 576.8,258.8 584.9,258.8 592.9,258.8 600.9,258.8 608.9,258.8 616.9,258.8 625.0,258.8 633.0,258.8"/><circle cx="400.4" cy="315.6" r="1.5" fill="#d09a3a"/><circle cx="408.4" cy="315.6" r="1.5" fill="#d09a3a"/><circle cx="416.4" cy="316.8" r="1.5" fill="#d09a3a"/><circle cx="424.5" cy="315.0" r="1.5" fill="#d09a3a"/><circle cx="432.5" cy="315.4" r="1.5" fill="#d09a3a"/><circle cx="440.5" cy="316.2" r="1.5" fill="#d09a3a"/><circle cx="448.5" cy="316.6" r="1.5" fill="#d09a3a"/><circle cx="456.5" cy="304.4" r="1.5" fill="#d09a3a"/><circle cx="464.6" cy="299.0" r="1.5" fill="#d09a3a"/><circle cx="472.6" cy="294.2" r="1.5" fill="#d09a3a"/><circle cx="480.6" cy="290.0" r="1.5" fill="#d09a3a"/><circle cx="488.6" cy="286.8" r="1.5" fill="#d09a3a"/><circle cx="496.6" cy="283.2" r="1.5" fill="#d09a3a"/><circle cx="504.7" cy="280.4" r="1.5" fill="#d09a3a"/><circle cx="512.7" cy="277.2" r="1.5" fill="#d09a3a"/><circle cx="520.7" cy="274.4" r="1.5" fill="#d09a3a"/><circle cx="528.7" cy="272.0" r="1.5" fill="#d09a3a"/><circle cx="536.7" cy="269.4" r="1.5" fill="#d09a3a"/><circle cx="544.8" cy="266.8" r="1.5" fill="#d09a3a"/><circle cx="552.8" cy="264.2" r="1.5" fill="#d09a3a"/><circle cx="560.8" cy="262.0" r="1.5" fill="#d09a3a"/><circle cx="568.8" cy="260.0" r="1.5" fill="#d09a3a"/><circle cx="576.8" cy="258.8" r="1.5" fill="#d09a3a"/><circle cx="584.9" cy="258.8" r="1.5" fill="#d09a3a"/><circle cx="592.9" cy="258.8" r="1.5" fill="#d09a3a"/><circle cx="600.9" cy="258.8" r="1.5" fill="#d09a3a"/><circle cx="608.9" cy="258.8" r="1.5" fill="#d09a3a"/><circle cx="616.9" cy="258.8" r="1.5" fill="#d09a3a"/><circle cx="625.0" cy="258.8" r="1.5" fill="#d09a3a"/><circle cx="633.0" cy="258.8" r="1.5" fill="#d09a3a"/><polyline fill="none" stroke="#3d7dd1" stroke-width="1.35" stroke-linejoin="round" points="400.4,324.2 408.4,322.4 416.4,322.0 424.5,322.2 432.5,322.0 440.5,318.2 448.5,320.0 456.5,327.8 464.6,322.8 472.6,318.6 480.6,329.0 488.6,306.0 496.6,318.0 504.7,306.8 512.7,316.4 520.7,313.4 528.7,294.0 536.7,287.8 544.8,300.0 552.8,280.4 560.8,276.4 568.8,318.0 576.8,304.0 584.9,299.6 592.9,298.4 600.9,297.8 608.9,297.4 616.9,297.0 625.0,296.6 633.0,296.0"/><circle cx="400.4" cy="324.2" r="1.5" fill="#3d7dd1"/><circle cx="408.4" cy="322.4" r="1.5" fill="#3d7dd1"/><circle cx="416.4" cy="322.0" r="1.5" fill="#3d7dd1"/><circle cx="424.5" cy="322.2" r="1.5" fill="#3d7dd1"/><circle cx="432.5" cy="322.0" r="1.5" fill="#3d7dd1"/><circle cx="440.5" cy="318.2" r="1.5" fill="#3d7dd1"/><circle cx="448.5" cy="320.0" r="1.5" fill="#3d7dd1"/><circle cx="456.5" cy="327.8" r="1.5" fill="#3d7dd1"/><circle cx="464.6" cy="322.8" r="1.5" fill="#3d7dd1"/><circle cx="472.6" cy="318.6" r="1.5" fill="#3d7dd1"/><circle cx="480.6" cy="329.0" r="1.5" fill="#3d7dd1"/><circle cx="488.6" cy="306.0" r="1.5" fill="#3d7dd1"/><circle cx="496.6" cy="318.0" r="1.5" fill="#3d7dd1"/><circle cx="504.7" cy="306.8" r="1.5" fill="#3d7dd1"/><circle cx="512.7" cy="316.4" r="1.5" fill="#3d7dd1"/><circle cx="520.7" cy="313.4" r="1.5" fill="#3d7dd1"/><circle cx="528.7" cy="294.0" r="1.5" fill="#3d7dd1"/><circle cx="536.7" cy="287.8" r="1.5" fill="#3d7dd1"/><circle cx="544.8" cy="300.0" r="1.5" fill="#3d7dd1"/><circle cx="552.8" cy="280.4" r="1.5" fill="#3d7dd1"/><circle cx="560.8" cy="276.4" r="1.5" fill="#3d7dd1"/><circle cx="568.8" cy="318.0" r="1.5" fill="#3d7dd1"/><circle cx="576.8" cy="304.0" r="1.5" fill="#3d7dd1"/><circle cx="584.9" cy="299.6" r="1.5" fill="#3d7dd1"/><circle cx="592.9" cy="298.4" r="1.5" fill="#3d7dd1"/><circle cx="600.9" cy="297.8" r="1.5" fill="#3d7dd1"/><circle cx="608.9" cy="297.4" r="1.5" fill="#3d7dd1"/><circle cx="616.9" cy="297.0" r="1.5" fill="#3d7dd1"/><circle cx="625.0" cy="296.6" r="1.5" fill="#3d7dd1"/><circle cx="633.0" cy="296.0" r="1.5" fill="#3d7dd1"/><polyline fill="none" stroke="#cf3f58" stroke-width="1.35" stroke-linejoin="round" points="400.4,344.2 408.4,344.2 416.4,344.2 424.5,344.2 432.5,344.2 440.5,344.2 448.5,344.2 456.5,344.2 464.6,344.2 472.6,344.2 480.6,344.2 488.6,344.2 496.6,344.2 504.7,344.2 512.7,344.2 520.7,344.2 528.7,344.2 536.7,344.2 544.8,344.2 552.8,344.2 560.8,344.2 568.8,344.2 576.8,344.2 584.9,344.2 592.9,344.2 600.9,344.2 608.9,344.2 616.9,344.2 625.0,344.2 633.0,344.2"/><circle cx="400.4" cy="344.2" r="1.5" fill="#cf3f58"/><circle cx="408.4" cy="344.2" r="1.5" fill="#cf3f58"/><circle cx="416.4" cy="344.2" r="1.5" fill="#cf3f58"/><circle cx="424.5" cy="344.2" r="1.5" fill="#cf3f58"/><circle cx="432.5" cy="344.2" r="1.5" fill="#cf3f58"/><circle cx="440.5" cy="344.2" r="1.5" fill="#cf3f58"/><circle cx="448.5" cy="344.2" r="1.5" fill="#cf3f58"/><circle cx="456.5" cy="344.2" r="1.5" fill="#cf3f58"/><circle cx="464.6" cy="344.2" r="1.5" fill="#cf3f58"/><circle cx="472.6" cy="344.2" r="1.5" fill="#cf3f58"/><circle cx="480.6" cy="344.2" r="1.5" fill="#cf3f58"/><circle cx="488.6" cy="344.2" r="1.5" fill="#cf3f58"/><circle cx="496.6" cy="344.2" r="1.5" fill="#cf3f58"/><circle cx="504.7" cy="344.2" r="1.5" fill="#cf3f58"/><circle cx="512.7" cy="344.2" r="1.5" fill="#cf3f58"/><circle cx="520.7" cy="344.2" r="1.5" fill="#cf3f58"/><circle cx="528.7" cy="344.2" r="1.5" fill="#cf3f58"/><circle cx="536.7" cy="344.2" r="1.5" fill="#cf3f58"/><circle cx="544.8" cy="344.2" r="1.5" fill="#cf3f58"/><circle cx="552.8" cy="344.2" r="1.5" fill="#cf3f58"/><circle cx="560.8" cy="344.2" r="1.5" fill="#cf3f58"/><circle cx="568.8" cy="344.2" r="1.5" fill="#cf3f58"/><circle cx="576.8" cy="344.2" r="1.5" fill="#cf3f58"/><circle cx="584.9" cy="344.2" r="1.5" fill="#cf3f58"/><circle cx="592.9" cy="344.2" r="1.5" fill="#cf3f58"/><circle cx="600.9" cy="344.2" r="1.5" fill="#cf3f58"/><circle cx="608.9" cy="344.2" r="1.5" fill="#cf3f58"/><circle cx="616.9" cy="344.2" r="1.5" fill="#cf3f58"/><circle cx="625.0" cy="344.2" r="1.5" fill="#cf3f58"/><circle cx="633.0" cy="344.2" r="1.5" fill="#cf3f58"/></svg><div class="lsep" style="left:321px;top:27px;height:247px"></div><div class="ltog" style="left:311.7px;top:26px"><svg class="ic" style="left:2.6px;top:7.4px" width="4" height="6" viewBox="0 0 4 6"><path d="M0.8 0.6L3.1 2.9L0.8 5.2" fill="none" stroke="#eee" stroke-width="1.3"/></svg></div><div class="li" style="left:323.4px;top:27.0px;width:97px"><i style="background:#3fc24b"></i>jvm.memory.total.max</div><div class="li" style="left:323.4px;top:39.9px;width:97px"><i style="background:#d09a3a"></i>jvm.memory.total.com...</div><div class="li" style="left:323.4px;top:52.7px;width:97px"><i style="background:#3d7dd1"></i>jvm.memory.total.used</div><div class="li" style="left:323.4px;top:65.5px;width:97px"><i style="background:#cf3f58"></i>jvm.memory.total.init</div><div class="spyl" style="top:274px"></div><div class="spyt" style="left:193.5px;top:274px"><svg class="ic" style="left:12px;top:3px" width="9" height="6" viewBox="0 0 9 6"><path d="M0.9 5L4.5 1.4L8.1 5" fill="none" stroke="#bbb" stroke-width="1.7"/></svg></div></div>
<div class="panel" style="left:761px;top:116px;width:532px;height:291px"><div class="ph"><svg class="ic" style="left:10px;top:8px" width="12" height="9.2" viewBox="0 0 13 10"><path d="M0.6 0V9.4H13" fill="none" stroke="#ccc" stroke-width="1"/><path d="M2.2 7.2L5 4.4L6.8 6.2L10.6 2.2" fill="none" stroke="#ccc" stroke-width="1.4"/><path d="M8.4 1.2H11.8V4.6Z" fill="#ccc"/></svg><span class="pt" style="left:27px;font-size:8.9px">JVM Heap Memory</span><svg class="ic" style="left:497.4px;top:9.2px" width="8.4" height="8.4" viewBox="0 0 9 9"><path d="M0.3 8.7L0.9 6.1L6.1 0.9L8.1 2.9L2.9 8.1Z" fill="#ccc"/><path d="M6.6 0.4L7.2 -0.2L9.2 1.8L8.6 2.4Z" fill="#ccc"/></svg><svg class="ic" style="left:510.8px;top:9.6px" width="7.4" height="7.4" viewBox="0 0 8 8"><path d="M1.2 1.2L6.8 6.8M6.8 1.2L1.2 6.8" stroke="#ddd" stroke-width="2.1"/></svg></div><svg class="chart" width="530" height="289" viewBox="762 117 530 289" style="left:0;top:0"><path d="M823.5 150H827.5V357H823.5" fill="none" stroke="#a0a0a0" stroke-width="1"/><text x="821.5" y="359.7" text-anchor="end" class="tk">0</text><path d="M823.5 305.25H827.5" stroke="#a0a0a0" stroke-width="1"/><text x="821.5" y="307.95" text-anchor="end" class="tk">500,000,000</text><path d="M823.5 253.5H827.5" stroke="#a0a0a0" stroke-width="1"/><text x="821.5" y="256.2" text-anchor="end" class="tk">1,000,000,000</text><path d="M823.5 201.75H827.5" stroke="#a0a0a0" stroke-width="1"/><text x="821.5" y="204.45" text-anchor="end" class="tk">1,500,000,000</text><text x="821.5" y="152.7" text-anchor="end" class="tk">2,000,000,000</text><text transform="translate(768.5,253.5) rotate(-90)" text-anchor="middle" class="at">Average metric_value</text><path d="M831 357H1175" stroke="#a0a0a0" stroke-width="1"/><path d="M893.4 357V360.5" stroke="#8a8a8a" stroke-width="1"/><text x="893.4" y="368.1" text-anchor="middle" class="tk tt">18:00:00</text><path d="M951.4 357V360.5" stroke="#8a8a8a" stroke-width="1"/><text x="951.4" y="368.1" text-anchor="middle" class="tk tt">18:05:00</text><path d="M1009.6 357V360.5" stroke="#8a8a8a" stroke-width="1"/><text x="1009.6" y="368.1" text-anchor="middle" class="tk tt">18:10:00</text><path d="M1067.6 357V360.5" stroke="#8a8a8a" stroke-width="1"/><text x="1067.6" y="368.1" text-anchor="middle" class="tk tt">18:15:00</text><path d="M1125.6 357V360.5" stroke="#8a8a8a" stroke-width="1"/><text x="1125.6" y="368.1" text-anchor="middle" class="tk tt">18:20:00</text><text x="1003.0" y="380.8" text-anchor="middle" class="at">@timestamp per 30 seconds</text><polyline fill="none" stroke="#3dc48e" stroke-width="1.35" stroke-linejoin="round" points="832.0,169.0 843.6,169.0 855.2,169.0 866.8,169.0 878.4,169.0 890.0,169.0 901.6,169.0 913.2,169.0 924.8,169.0 936.4,169.0 948.0,169.0 959.6,169.0 971.2,169.0 982.8,169.0 994.4,169.0 1006.0,169.0 1017.6,169.0 1029.2,169.0 1040.8,169.0 1052.4,169.0 1064.0,169.0 1075.6,169.0 1087.2,169.0 1098.8,169.0 1110.4,169.0 1122.0,169.0 1133.6,169.0 1145.2,169.0 1156.8,169.0 1168.4,169.0"/><circle cx="832.0" cy="169.0" r="1.5" fill="#3dc48e"/><circle cx="843.6" cy="169.0" r="1.5" fill="#3dc48e"/><circle cx="855.2" cy="169.0" r="1.5" fill="#3dc48e"/><circle cx="866.8" cy="169.0" r="1.5" fill="#3dc48e"/><circle cx="878.4" cy="169.0" r="1.5" fill="#3dc48e"/><circle cx="890.0" cy="169.0" r="1.5" fill="#3dc48e"/><circle cx="901.6" cy="169.0" r="1.5" fill="#3dc48e"/><circle cx="913.2" cy="169.0" r="1.5" fill="#3dc48e"/><circle cx="924.8" cy="169.0" r="1.5" fill="#3dc48e"/><circle cx="936.4" cy="169.0" r="1.5" fill="#3dc48e"/><circle cx="948.0" cy="169.0" r="1.5" fill="#3dc48e"/><circle cx="959.6" cy="169.0" r="1.5" fill="#3dc48e"/><circle cx="971.2" cy="169.0" r="1.5" fill="#3dc48e"/><circle cx="982.8" cy="169.0" r="1.5" fill="#3dc48e"/><circle cx="994.4" cy="169.0" r="1.5" fill="#3dc48e"/><circle cx="1006.0" cy="169.0" r="1.5" fill="#3dc48e"/><circle cx="1017.6" cy="169.0" r="1.5" fill="#3dc48e"/><circle cx="1029.2" cy="169.0" r="1.5" fill="#3dc48e"/><circle cx="1040.8" cy="169.0" r="1.5" fill="#3dc48e"/><circle cx="1052.4" cy="169.0" r="1.5" fill="#3dc48e"/><circle cx="1064.0" cy="169.0" r="1.5" fill="#3dc48e"/><circle cx="1075.6" cy="169.0" r="1.5" fill="#3dc48e"/><circle cx="1087.2" cy="169.0" r="1.5" fill="#3dc48e"/><circle cx="1098.8" cy="169.0" r="1.5" fill="#3dc48e"/><circle cx="1110.4" cy="169.0" r="1.5" fill="#3dc48e"/><circle cx="1122.0" cy="169.0" r="1.5" fill="#3dc48e"/><circle cx="1133.6" cy="169.0" r="1.5" fill="#3dc48e"/><circle cx="1145.2" cy="169.0" r="1.5" fill="#3dc48e"/><circle cx="1156.8" cy="169.0" r="1.5" fill="#3dc48e"/><circle cx="1168.4" cy="169.0" r="1.5" fill="#3dc48e"/><polyline fill="none" stroke="#c6c936" stroke-width="1.35" stroke-linejoin="round" points="832.0,332.2 843.6,332.2 855.2,333.4 866.8,331.4 878.4,331.8 890.0,332.6 901.6,333.0 913.2,321.0 924.8,315.6 936.4,310.8 948.0,306.6 959.6,303.6 971.2,299.8 982.8,297.2 994.4,293.8 1006.0,291.0 1017.6,288.8 1029.2,286.0 1040.8,283.4 1052.4,280.8 1064.0,278.6 1075.6,276.6 1087.2,275.4 1098.8,275.4 1110.4,275.4 1122.0,275.4 1133.6,275.4 1145.2,275.4 1156.8,275.4 1168.4,275.4"/><circle cx="832.0" cy="332.2" r="1.5" fill="#c6c936"/><circle cx="843.6" cy="332.2" r="1.5" fill="#c6c936"/><circle cx="855.2" cy="333.4" r="1.5" fill="#c6c936"/><circle cx="866.8" cy="331.4" r="1.5" fill="#c6c936"/><circle cx="878.4" cy="331.8" r="1.5" fill="#c6c936"/><circle cx="890.0" cy="332.6" r="1.5" fill="#c6c936"/><circle cx="901.6" cy="333.0" r="1.5" fill="#c6c936"/><circle cx="913.2" cy="321.0" r="1.5" fill="#c6c936"/><circle cx="924.8" cy="315.6" r="1.5" fill="#c6c936"/><circle cx="936.4" cy="310.8" r="1.5" fill="#c6c936"/><circle cx="948.0" cy="306.6" r="1.5" fill="#c6c936"/><circle cx="959.6" cy="303.6" r="1.5" fill="#c6c936"/><circle cx="971.2" cy="299.8" r="1.5" fill="#c6c936"/><circle cx="982.8" cy="297.2" r="1.5" fill="#c6c936"/><circle cx="994.4" cy="293.8" r="1.5" fill="#c6c936"/><circle cx="1006.0" cy="291.0" r="1.5" fill="#c6c936"/><circle cx="1017.6" cy="288.8" r="1.5" fill="#c6c936"/><circle cx="1029.2" cy="286.0" r="1.5" fill="#c6c936"/><circle cx="1040.8" cy="283.4" r="1.5" fill="#c6c936"/><circle cx="1052.4" cy="280.8" r="1.5" fill="#c6c936"/><circle cx="1064.0" cy="278.6" r="1.5" fill="#c6c936"/><circle cx="1075.6" cy="276.6" r="1.5" fill="#c6c936"/><circle cx="1087.2" cy="275.4" r="1.5" fill="#c6c936"/><circle cx="1098.8" cy="275.4" r="1.5" fill="#c6c936"/><circle cx="1110.4" cy="275.4" r="1.5" fill="#c6c936"/><circle cx="1122.0" cy="275.4" r="1.5" fill="#c6c936"/><circle cx="1133.6" cy="275.4" r="1.5" fill="#c6c936"/><circle cx="1145.2" cy="275.4" r="1.5" fill="#c6c936"/><circle cx="1156.8" cy="275.4" r="1.5" fill="#c6c936"/><circle cx="1168.4" cy="275.4" r="1.5" fill="#c6c936"/><polyline fill="none" stroke="#4440d4" stroke-width="1.35" stroke-linejoin="round" points="832.0,340.4 843.6,338.8 855.2,338.2 866.8,338.4 878.4,338.2 890.0,334.6 901.6,336.2 913.2,344.0 924.8,339.0 936.4,334.8 948.0,345.2 959.6,322.0 971.2,334.0 982.8,323.0 994.4,332.6 1006.0,329.6 1017.6,310.4 1029.2,304.0 1040.8,316.4 1052.4,296.6 1064.0,292.6 1075.6,334.0 1087.2,320.0 1098.8,315.8 1110.4,314.6 1122.0,314.0 1133.6,313.6 1145.2,313.0 1156.8,312.6 1168.4,312.2"/><circle cx="832.0" cy="340.4" r="1.5" fill="#4440d4"/><circle cx="843.6" cy="338.8" r="1.5" fill="#4440d4"/><circle cx="855.2" cy="338.2" r="1.5" fill="#4440d4"/><circle cx="866.8" cy="338.4" r="1.5" fill="#4440d4"/><circle cx="878.4" cy="338.2" r="1.5" fill="#4440d4"/><circle cx="890.0" cy="334.6" r="1.5" fill="#4440d4"/><circle cx="901.6" cy="336.2" r="1.5" fill="#4440d4"/><circle cx="913.2" cy="344.0" r="1.5" fill="#4440d4"/><circle cx="924.8" cy="339.0" r="1.5" fill="#4440d4"/><circle cx="936.4" cy="334.8" r="1.5" fill="#4440d4"/><circle cx="948.0" cy="345.2" r="1.5" fill="#4440d4"/><circle cx="959.6" cy="322.0" r="1.5" fill="#4440d4"/><circle cx="971.2" cy="334.0" r="1.5" fill="#4440d4"/><circle cx="982.8" cy="323.0" r="1.5" fill="#4440d4"/><circle cx="994.4" cy="332.6" r="1.5" fill="#4440d4"/><circle cx="1006.0" cy="329.6" r="1.5" fill="#4440d4"/><circle cx="1017.6" cy="310.4" r="1.5" fill="#4440d4"/><circle cx="1029.2" cy="304.0" r="1.5" fill="#4440d4"/><circle cx="1040.8" cy="316.4" r="1.5" fill="#4440d4"/><circle cx="1052.4" cy="296.6" r="1.5" fill="#4440d4"/><circle cx="1064.0" cy="292.6" r="1.5" fill="#4440d4"/><circle cx="1075.6" cy="334.0" r="1.5" fill="#4440d4"/><circle cx="1087.2" cy="320.0" r="1.5" fill="#4440d4"/><circle cx="1098.8" cy="315.8" r="1.5" fill="#4440d4"/><circle cx="1110.4" cy="314.6" r="1.5" fill="#4440d4"/><circle cx="1122.0" cy="314.0" r="1.5" fill="#4440d4"/><circle cx="1133.6" cy="313.6" r="1.5" fill="#4440d4"/><circle cx="1145.2" cy="313.0" r="1.5" fill="#4440d4"/><circle cx="1156.8" cy="312.6" r="1.5" fill="#4440d4"/><circle cx="1168.4" cy="312.2" r="1.5" fill="#4440d4"/><polyline fill="none" stroke="#d0693a" stroke-width="1.35" stroke-linejoin="round" points="832.0,344.4 843.6,344.4 855.2,344.4 866.8,344.4 878.4,344.4 890.0,344.4 901.6,344.4 913.2,344.4 924.8,344.4 936.4,344.4 948.0,344.4 959.6,344.4 971.2,344.4 982.8,344.4 994.4,344.4 1006.0,344.4 1017.6,344.4 1029.2,344.4 1040.8,344.4 1052.4,344.4 1064.0,344.4 1075.6,344.4 1087.2,344.4 1098.8,344.4 1110.4,344.4 1122.0,344.4 1133.6,344.4 1145.2,344.4 1156.8,344.4 1168.4,344.4"/><circle cx="832.0" cy="344.4" r="1.5" fill="#d0693a"/><circle cx="843.6" cy="344.4" r="1.5" fill="#d0693a"/><circle cx="855.2" cy="344.4" r="1.5" fill="#d0693a"/><circle cx="866.8" cy="344.4" r="1.5" fill="#d0693a"/><circle cx="878.4" cy="344.4" r="1.5" fill="#d0693a"/><circle cx="890.0" cy="344.4" r="1.5" fill="#d0693a"/><circle cx="901.6" cy="344.4" r="1.5" fill="#d0693a"/><circle cx="913.2" cy="344.4" r="1.5" fill="#d0693a"/><circle cx="924.8" cy="344.4" r="1.5" fill="#d0693a"/><circle cx="936.4" cy="344.4" r="1.5" fill="#d0693a"/><circle cx="948.0" cy="344.4" r="1.5" fill="#d0693a"/><circle cx="959.6" cy="344.4" r="1.5" fill="#d0693a"/><circle cx="971.2" cy="344.4" r="1.5" fill="#d0693a"/><circle cx="982.8" cy="344.4" r="1.5" fill="#d0693a"/><circle cx="994.4" cy="344.4" r="1.5" fill="#d0693a"/><circle cx="1006.0" cy="344.4" r="1.5" fill="#d0693a"/><circle cx="1017.6" cy="344.4" r="1.5" fill="#d0693a"/><circle cx="1029.2" cy="344.4" r="1.5" fill="#d0693a"/><circle cx="1040.8" cy="344.4" r="1.5" fill="#d0693a"/><circle cx="1052.4" cy="344.4" r="1.5" fill="#d0693a"/><circle cx="1064.0" cy="344.4" r="1.5" fill="#d0693a"/><circle cx="1075.6" cy="344.4" r="1.5" fill="#d0693a"/><circle cx="1087.2" cy="344.4" r="1.5" fill="#d0693a"/><circle cx="1098.8" cy="344.4" r="1.5" fill="#d0693a"/><circle cx="1110.4" cy="344.4" r="1.5" fill="#d0693a"/><circle cx="1122.0" cy="344.4" r="1.5" fill="#d0693a"/><circle cx="1133.6" cy="344.4" r="1.5" fill="#d0693a"/><circle cx="1145.2" cy="344.4" r="1.5" fill="#d0693a"/><circle cx="1156.8" cy="344.4" r="1.5" fill="#d0693a"/><circle cx="1168.4" cy="344.4" r="1.5" fill="#d0693a"/></svg><div class="lsep" style="left:429px;top:27px;height:247px"></div><div class="ltog" style="left:419.7px;top:26px"><svg class="ic" style="left:2.6px;top:7.4px" width="4" height="6" viewBox="0 0 4 6"><path d="M0.8 0.6L3.1 2.9L0.8 5.2" fill="none" stroke="#eee" stroke-width="1.3"/></svg></div><div class="li" style="left:431.4px;top:27.0px;width:97px"><i style="background:#3dc48e"></i>jvm.memory.heap.max</div><div class="li" style="left:431.4px;top:39.9px;width:97px"><i style="background:#c6c936"></i>jvm.memory.heap.com...</div><div class="li" style="left:431.4px;top:52.7px;width:97px"><i style="background:#4440d4"></i>jvm.memory.heap.used</div><div class="li" style="left:431.4px;top:65.5px;width:97px"><i style="background:#d0693a"></i>jvm.memory.heap.init</div><div class="spyl" style="top:274px"></div><div class="spyt" style="left:247.5px;top:274px"><svg class="ic" style="left:12px;top:3px" width="9" height="6" viewBox="0 0 9 6"><path d="M0.9 5L4.5 1.4L8.1 5" fill="none" stroke="#bbb" stroke-width="1.7"/></svg></div></div>
<div class="panel" style="left:330px;top:414px;width:424px;height:291px"><div class="ph"><svg class="ic" style="left:10px;top:8px" width="10" height="10" viewBox="0 0 10 10"><circle cx="5" cy="5" r="4" fill="none" stroke="#ccc" stroke-width="1.4"/><path d="M5.2 2.6V5.4H3.2" fill="none" stroke="#ccc" stroke-width="1.1"/></svg><span class="pt" style="left:24.8px;font-size:8.79px">JVM memory usage ratio (JVM memory used / JVM memory max)</span><svg class="ic" style="left:389.4px;top:9.2px" width="8.4" height="8.4" viewBox="0 0 9 9"><path d="M0.3 8.7L0.9 6.1L6.1 0.9L8.1 2.9L2.9 8.1Z" fill="#ccc"/><path d="M6.6 0.4L7.2 -0.2L9.2 1.8L8.6 2.4Z" fill="#ccc"/></svg><svg class="ic" style="left:402.8px;top:9.6px" width="7.4" height="7.4" viewBox="0 0 8 8"><path d="M1.2 1.2L6.8 6.8M6.8 1.2L1.2 6.8" stroke="#ddd" stroke-width="2.1"/></svg></div><svg class="chart" width="422" height="289" viewBox="331 415 422 289" style="left:0;top:0"><rect x="359" y="458" width="383" height="227" fill="#fff"/><text x="356" y="459.5" text-anchor="end" class="tl">0.270</text><path d="M359 503.7H742" stroke="#e9e9e9" stroke-width="1"/><text x="356" y="505.2" text-anchor="end" class="tl">0.260</text><path d="M359 549.4H742" stroke="#e9e9e9" stroke-width="1"/><text x="356" y="550.9" text-anchor="end" class="tl">0.250</text><path d="M359 595.1H742" stroke="#e9e9e9" stroke-width="1"/><text x="356" y="596.6" text-anchor="end" class="tl">0.240</text><path d="M359 640.8H742" stroke="#e9e9e9" stroke-width="1"/><text x="356" y="642.3" text-anchor="end" class="tl">0.230</text><text x="356" y="688.0" text-anchor="end" class="tl">0.220</text><text x="359.0" y="695.5" text-anchor="middle" class="tl">17:00</text><text x="422.8" y="695.5" text-anchor="middle" class="tl">17:10</text><text x="486.7" y="695.5" text-anchor="middle" class="tl">17:20</text><text x="550.5" y="695.5" text-anchor="middle" class="tl">17:30</text><text x="614.3" y="695.5" text-anchor="middle" class="tl">17:40</text><text x="678.1" y="695.5" text-anchor="middle" class="tl">17:50</text><text x="742.0" y="695.5" text-anchor="middle" class="tl">18:00</text><rect x="363" y="463" width="6.6" height="6.6" fill="#00a0a5"/><text x="371" y="469" class="tg">JVM Memory Usage Ratio</text><clipPath id="c5"><rect x="359" y="458" width="383" height="227"/></clipPath><path d="M359 677.8L742 466.8" stroke="#00a0a5" stroke-width="2" clip-path="url(#c5)"/></svg></div>
<div class="panel" style="left:761px;top:414px;width:532px;height:291px"><div class="ph"><svg class="ic" style="left:10px;top:8px" width="12" height="9.2" viewBox="0 0 13 10"><path d="M0.6 0V9.4H13" fill="none" stroke="#ccc" stroke-width="1"/><path d="M2.2 7.2L5 4.4L6.8 6.2L10.6 2.2" fill="none" stroke="#ccc" stroke-width="1.4"/><path d="M8.4 1.2H11.8V4.6Z" fill="#ccc"/></svg><span class="pt" style="left:27px;font-size:8.9px">JVM Non-Heap Memory</span><svg class="ic" style="left:497.4px;top:9.2px" width="8.4" height="8.4" viewBox="0 0 9 9"><path d="M0.3 8.7L0.9 6.1L6.1 0.9L8.1 2.9L2.9 8.1Z" fill="#ccc"/><path d="M6.6 0.4L7.2 -0.2L9.2 1.8L8.6 2.4Z" fill="#ccc"/></svg><svg class="ic" style="left:510.8px;top:9.6px" width="7.4" height="7.4" viewBox="0 0 8 8"><path d="M1.2 1.2L6.8 6.8M6.8 1.2L1.2 6.8" stroke="#ddd" stroke-width="2.1"/></svg></div><svg class="chart" width="530" height="289" viewBox="762 415 530 289" style="left:0;top:0"><path d="M818.5 448.5H822.5V655.5H818.5" fill="none" stroke="#a0a0a0" stroke-width="1"/><path d="M818.5 632.2H822.5" stroke="#a0a0a0" stroke-width="1"/><text x="816.5" y="634.9000000000001" text-anchor="end" class="tk">0</text><path d="M818.5 574.7H822.5" stroke="#a0a0a0" stroke-width="1"/><text x="816.5" y="577.4000000000001" text-anchor="end" class="tk">50,000,000</text><path d="M818.5 517.2H822.5" stroke="#a0a0a0" stroke-width="1"/><text x="816.5" y="519.9000000000001" text-anchor="end" class="tk">100,000,000</text><path d="M818.5 459.70000000000005H822.5" stroke="#a0a0a0" stroke-width="1"/><text x="816.5" y="462.40000000000003" text-anchor="end" class="tk">150,000,000</text><text transform="translate(768.5,552.0) rotate(-90)" text-anchor="middle" class="at">Average metric_value</text><path d="M889.4 655.5V659.0" stroke="#8a8a8a" stroke-width="1"/><text x="889.4" y="666.6" text-anchor="middle" class="tk tt">18:00:00</text><path d="M948.4 655.5V659.0" stroke="#8a8a8a" stroke-width="1"/><text x="948.4" y="666.6" text-anchor="middle" class="tk tt">18:05:00</text><path d="M1007.4 655.5V659.0" stroke="#8a8a8a" stroke-width="1"/><text x="1007.4" y="666.6" text-anchor="middle" class="tk tt">18:10:00</text><path d="M1066.4 655.5V659.0" stroke="#8a8a8a" stroke-width="1"/><text x="1066.4" y="666.6" text-anchor="middle" class="tk tt">18:15:00</text><path d="M1125.4 655.5V659.0" stroke="#8a8a8a" stroke-width="1"/><text x="1125.4" y="666.6" text-anchor="middle" class="tk tt">18:20:00</text><text x="1000.5" y="679.3" text-anchor="middle" class="at">@timestamp per 30 seconds</text><polyline fill="none" stroke="#3d9cd1" stroke-width="1.35" stroke-linejoin="round" points="826.4,448.8 838.2,448.8 850.0,448.8 861.8,448.8 873.6,448.8 885.4,448.8 897.2,448.8 909.0,448.8 920.8,448.8 932.6,448.8 944.4,448.8 956.2,448.8 968.0,448.8 979.8,448.8 991.6,448.8 1003.4,448.8 1015.2,448.8 1027.0,448.5 1038.8,448.5 1050.6,448.5 1062.4,448.5 1074.2,448.5 1086.0,448.5 1097.8,448.5 1109.6,448.5 1121.4,448.5 1133.2,448.5 1145.0,448.5 1156.8,448.5 1168.6,448.5"/><circle cx="826.4" cy="448.8" r="1.5" fill="#3d9cd1"/><circle cx="838.2" cy="448.8" r="1.5" fill="#3d9cd1"/><circle cx="850.0" cy="448.8" r="1.5" fill="#3d9cd1"/><circle cx="861.8" cy="448.8" r="1.5" fill="#3d9cd1"/><circle cx="873.6" cy="448.8" r="1.5" fill="#3d9cd1"/><circle cx="885.4" cy="448.8" r="1.5" fill="#3d9cd1"/><circle cx="897.2" cy="448.8" r="1.5" fill="#3d9cd1"/><circle cx="909.0" cy="448.8" r="1.5" fill="#3d9cd1"/><circle cx="920.8" cy="448.8" r="1.5" fill="#3d9cd1"/><circle cx="932.6" cy="448.8" r="1.5" fill="#3d9cd1"/><circle cx="944.4" cy="448.8" r="1.5" fill="#3d9cd1"/><circle cx="956.2" cy="448.8" r="1.5" fill="#3d9cd1"/><circle cx="968.0" cy="448.8" r="1.5" fill="#3d9cd1"/><circle cx="979.8" cy="448.8" r="1.5" fill="#3d9cd1"/><circle cx="991.6" cy="448.8" r="1.5" fill="#3d9cd1"/><circle cx="1003.4" cy="448.8" r="1.5" fill="#3d9cd1"/><circle cx="1015.2" cy="448.8" r="1.5" fill="#3d9cd1"/><circle cx="1027.0" cy="448.5" r="1.5" fill="#3d9cd1"/><circle cx="1038.8" cy="448.5" r="1.5" fill="#3d9cd1"/><circle cx="1050.6" cy="448.5" r="1.5" fill="#3d9cd1"/><circle cx="1062.4" cy="448.5" r="1.5" fill="#3d9cd1"/><circle cx="1074.2" cy="448.5" r="1.5" fill="#3d9cd1"/><circle cx="1086.0" cy="448.5" r="1.5" fill="#3d9cd1"/><circle cx="1097.8" cy="448.5" r="1.5" fill="#3d9cd1"/><circle cx="1109.6" cy="448.5" r="1.5" fill="#3d9cd1"/><circle cx="1121.4" cy="448.5" r="1.5" fill="#3d9cd1"/><circle cx="1133.2" cy="448.5" r="1.5" fill="#3d9cd1"/><circle cx="1145.0" cy="448.5" r="1.5" fill="#3d9cd1"/><circle cx="1156.8" cy="448.5" r="1.5" fill="#3d9cd1"/><circle cx="1168.6" cy="448.5" r="1.5" fill="#3d9cd1"/><polyline fill="none" stroke="#4fc23d" stroke-width="1.35" stroke-linejoin="round" points="826.4,454.2 838.2,453.6 850.0,453.6 861.8,453.6 873.6,453.6 885.4,453.6 897.2,453.6 909.0,455.4 920.8,455.4 932.6,455.4 944.4,455.4 956.2,455.4 968.0,455.4 979.8,455.4 991.6,455.4 1003.4,455.4 1015.2,455.4 1027.0,455.4 1038.8,455.4 1050.6,455.4 1062.4,455.4 1074.2,455.4 1086.0,455.4 1097.8,455.4 1109.6,455.4 1121.4,455.4 1133.2,455.4 1145.0,455.4 1156.8,455.4 1168.6,455.4"/><circle cx="826.4" cy="454.2" r="1.5" fill="#4fc23d"/><circle cx="838.2" cy="453.6" r="1.5" fill="#4fc23d"/><circle cx="850.0" cy="453.6" r="1.5" fill="#4fc23d"/><circle cx="861.8" cy="453.6" r="1.5" fill="#4fc23d"/><circle cx="873.6" cy="453.6" r="1.5" fill="#4fc23d"/><circle cx="885.4" cy="453.6" r="1.5" fill="#4fc23d"/><circle cx="897.2" cy="453.6" r="1.5" fill="#4fc23d"/><circle cx="909.0" cy="455.4" r="1.5" fill="#4fc23d"/><circle cx="920.8" cy="455.4" r="1.5" fill="#4fc23d"/><circle cx="932.6" cy="455.4" r="1.5" fill="#4fc23d"/><circle cx="944.4" cy="455.4" r="1.5" fill="#4fc23d"/><circle cx="956.2" cy="455.4" r="1.5" fill="#4fc23d"/><circle cx="968.0" cy="455.4" r="1.5" fill="#4fc23d"/><circle cx="979.8" cy="455.4" r="1.5" fill="#4fc23d"/><circle cx="991.6" cy="455.4" r="1.5" fill="#4fc23d"/><circle cx="1003.4" cy="455.4" r="1.5" fill="#4fc23d"/><circle cx="1015.2" cy="455.4" r="1.5" fill="#4fc23d"/><circle cx="1027.0" cy="455.4" r="1.5" fill="#4fc23d"/><circle cx="1038.8" cy="455.4" r="1.5" fill="#4fc23d"/><circle cx="1050.6" cy="455.4" r="1.5" fill="#4fc23d"/><circle cx="1062.4" cy="455.4" r="1.5" fill="#4fc23d"/><circle cx="1074.2" cy="455.4" r="1.5" fill="#4fc23d"/><circle cx="1086.0" cy="455.4" r="1.5" fill="#4fc23d"/><circle cx="1097.8" cy="455.4" r="1.5" fill="#4fc23d"/><circle cx="1109.6" cy="455.4" r="1.5" fill="#4fc23d"/><circle cx="1121.4" cy="455.4" r="1.5" fill="#4fc23d"/><circle cx="1133.2" cy="455.4" r="1.5" fill="#4fc23d"/><circle cx="1145.0" cy="455.4" r="1.5" fill="#4fc23d"/><circle cx="1156.8" cy="455.4" r="1.5" fill="#4fc23d"/><circle cx="1168.6" cy="455.4" r="1.5" fill="#4fc23d"/><polyline fill="none" stroke="#a33fd1" stroke-width="1.35" stroke-linejoin="round" points="826.4,629.4 838.2,629.4 850.0,629.4 861.8,629.4 873.6,629.4 885.4,629.4 897.2,629.4 909.0,629.4 920.8,629.4 932.6,629.4 944.4,629.4 956.2,629.4 968.0,629.4 979.8,629.4 991.6,629.4 1003.4,629.4 1015.2,629.4 1027.0,629.4 1038.8,629.4 1050.6,629.4 1062.4,629.4 1074.2,629.4 1086.0,629.4 1097.8,629.4 1109.6,629.4 1121.4,629.4 1133.2,629.4 1145.0,629.4 1156.8,629.4 1168.6,629.4"/><circle cx="826.4" cy="629.4" r="1.5" fill="#a33fd1"/><circle cx="838.2" cy="629.4" r="1.5" fill="#a33fd1"/><circle cx="850.0" cy="629.4" r="1.5" fill="#a33fd1"/><circle cx="861.8" cy="629.4" r="1.5" fill="#a33fd1"/><circle cx="873.6" cy="629.4" r="1.5" fill="#a33fd1"/><circle cx="885.4" cy="629.4" r="1.5" fill="#a33fd1"/><circle cx="897.2" cy="629.4" r="1.5" fill="#a33fd1"/><circle cx="909.0" cy="629.4" r="1.5" fill="#a33fd1"/><circle cx="920.8" cy="629.4" r="1.5" fill="#a33fd1"/><circle cx="932.6" cy="629.4" r="1.5" fill="#a33fd1"/><circle cx="944.4" cy="629.4" r="1.5" fill="#a33fd1"/><circle cx="956.2" cy="629.4" r="1.5" fill="#a33fd1"/><circle cx="968.0" cy="629.4" r="1.5" fill="#a33fd1"/><circle cx="979.8" cy="629.4" r="1.5" fill="#a33fd1"/><circle cx="991.6" cy="629.4" r="1.5" fill="#a33fd1"/><circle cx="1003.4" cy="629.4" r="1.5" fill="#a33fd1"/><circle cx="1015.2" cy="629.4" r="1.5" fill="#a33fd1"/><circle cx="1027.0" cy="629.4" r="1.5" fill="#a33fd1"/><circle cx="1038.8" cy="629.4" r="1.5" fill="#a33fd1"/><circle cx="1050.6" cy="629.4" r="1.5" fill="#a33fd1"/><circle cx="1062.4" cy="629.4" r="1.5" fill="#a33fd1"/><circle cx="1074.2" cy="629.4" r="1.5" fill="#a33fd1"/><circle cx="1086.0" cy="629.4" r="1.5" fill="#a33fd1"/><circle cx="1097.8" cy="629.4" r="1.5" fill="#a33fd1"/><circle cx="1109.6" cy="629.4" r="1.5" fill="#a33fd1"/><circle cx="1121.4" cy="629.4" r="1.5" fill="#a33fd1"/><circle cx="1133.2" cy="629.4" r="1.5" fill="#a33fd1"/><circle cx="1145.0" cy="629.4" r="1.5" fill="#a33fd1"/><circle cx="1156.8" cy="629.4" r="1.5" fill="#a33fd1"/><circle cx="1168.6" cy="629.4" r="1.5" fill="#a33fd1"/><polyline fill="none" stroke="#cf3fc2" stroke-width="1.35" stroke-linejoin="round" points="826.4,632.3 838.2,632.3 850.0,632.3 861.8,632.3 873.6,632.3 885.4,632.3 897.2,632.3 909.0,632.3 920.8,632.3 932.6,632.3 944.4,632.3 956.2,632.3 968.0,632.3 979.8,632.3 991.6,632.3 1003.4,632.3 1015.2,632.3 1027.0,632.3 1038.8,632.3 1050.6,632.3 1062.4,632.3 1074.2,632.3 1086.0,632.3 1097.8,632.3 1109.6,632.3 1121.4,632.3 1133.2,632.3 1145.0,632.3 1156.8,632.3 1168.6,632.3"/><circle cx="826.4" cy="632.3" r="1.5" fill="#cf3fc2"/><circle cx="838.2" cy="632.3" r="1.5" fill="#cf3fc2"/><circle cx="850.0" cy="632.3" r="1.5" fill="#cf3fc2"/><circle cx="861.8" cy="632.3" r="1.5" fill="#cf3fc2"/><circle cx="873.6" cy="632.3" r="1.5" fill="#cf3fc2"/><circle cx="885.4" cy="632.3" r="1.5" fill="#cf3fc2"/><circle cx="897.2" cy="632.3" r="1.5" fill="#cf3fc2"/><circle cx="909.0" cy="632.3" r="1.5" fill="#cf3fc2"/><circle cx="920.8" cy="632.3" r="1.5" fill="#cf3fc2"/><circle cx="932.6" cy="632.3" r="1.5" fill="#cf3fc2"/><circle cx="944.4" cy="632.3" r="1.5" fill="#cf3fc2"/><circle cx="956.2" cy="632.3" r="1.5" fill="#cf3fc2"/><circle cx="968.0" cy="632.3" r="1.5" fill="#cf3fc2"/><circle cx="979.8" cy="632.3" r="1.5" fill="#cf3fc2"/><circle cx="991.6" cy="632.3" r="1.5" fill="#cf3fc2"/><circle cx="1003.4" cy="632.3" r="1.5" fill="#cf3fc2"/><circle cx="1015.2" cy="632.3" r="1.5" fill="#cf3fc2"/><circle cx="1027.0" cy="632.3" r="1.5" fill="#cf3fc2"/><circle cx="1038.8" cy="632.3" r="1.5" fill="#cf3fc2"/><circle cx="1050.6" cy="632.3" r="1.5" fill="#cf3fc2"/><circle cx="1062.4" cy="632.3" r="1.5" fill="#cf3fc2"/><circle cx="1074.2" cy="632.3" r="1.5" fill="#cf3fc2"/><circle cx="1086.0" cy="632.3" r="1.5" fill="#cf3fc2"/><circle cx="1097.8" cy="632.3" r="1.5" fill="#cf3fc2"/><circle cx="1109.6" cy="632.3" r="1.5" fill="#cf3fc2"/><circle cx="1121.4" cy="632.3" r="1.5" fill="#cf3fc2"/><circle cx="1133.2" cy="632.3" r="1.5" fill="#cf3fc2"/><circle cx="1145.0" cy="632.3" r="1.5" fill="#cf3fc2"/><circle cx="1156.8" cy="632.3" r="1.5" fill="#cf3fc2"/><circle cx="1168.6" cy="632.3" r="1.5" fill="#cf3fc2"/><path d="M822.5 632.5H1175" stroke="#e6e6e6" stroke-width="1"/></svg><div class="lsep" style="left:429px;top:27px;height:247px"></div><div class="ltog" style="left:419.7px;top:26px"><svg class="ic" style="left:2.6px;top:7.4px" width="4" height="6" viewBox="0 0 4 6"><path d="M0.8 0.6L3.1 2.9L0.8 5.2" fill="none" stroke="#eee" stroke-width="1.3"/></svg></div><div class="li" style="left:431.4px;top:27.0px;width:97px"><i style="background:#3d9cd1"></i>jvm.memory.non-heap....</div><div class="li" style="left:431.4px;top:39.9px;width:97px"><i style="background:#4fc23d"></i>jvm.memory.non-heap....</div><div class="li" style="left:431.4px;top:52.7px;width:97px"><i style="background:#a33fd1"></i>jvm.memory.non-heap....</div><div class="li" style="left:431.4px;top:65.5px;width:97px"><i style="background:#cf3fc2"></i>jvm.memory.non-heap....</div><div class="spyl" style="top:274px"></div><div class="spyt" style="left:247.5px;top:274px"><svg class="ic" style="left:12px;top:3px" width="9" height="6" viewBox="0 0 9 6"><path d="M0.9 5L4.5 1.4L8.1 5" fill="none" stroke="#bbb" stroke-width="1.7"/></svg></div></div>
</body></html>
